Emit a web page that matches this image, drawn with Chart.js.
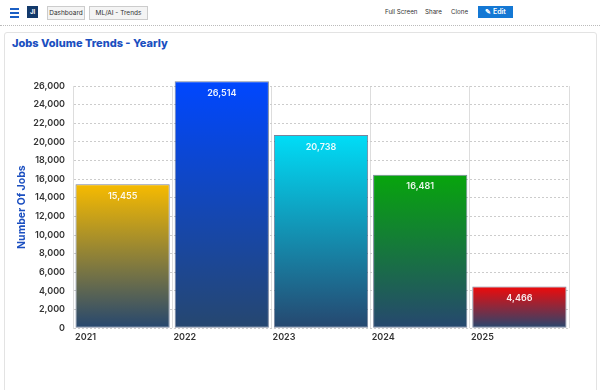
<!DOCTYPE html>
<html>
<head>
<meta charset="utf-8">
<script src="https://cdn.jsdelivr.net/npm/chart.js@4.4.1/dist/chart.umd.min.js"></script>
<style>
  body { margin: 0; width: 600px; height: 390px; background: #fff; font-family: "Inter", "Noto Sans", sans-serif; position: relative; overflow: hidden; }
  .bar { position: absolute; left: 0; top: 0; width: 600px; height: 25px; border-bottom: 1px dotted #bbb; }
  .menu { position: absolute; left: 10px; top: 8px; width: 9px; }
  .menu i { display: block; height: 2px; background: #1b5fc4; margin-bottom: 2px; }
  .logo { position: absolute; left: 27px; top: 6px; width: 11px; height: 12px; background: #133a6b; color: #fff; font-size: 6px; font-weight: 700; text-align: center; line-height: 12px; }
  .btn { position: absolute; top: 6px; height: 12px; border: 1px solid #ccc; background: #f4f4f4; font-size: 6.5px; color: #333; line-height: 12px; text-align: center; }
  .lnk { position: absolute; top: 8px; font-size: 6.2px; color: #333; }
  .edit { position: absolute; left: 478px; top: 6px; width: 35px; height: 12px; background: #1478d4; color: #fff; font-size: 7px; line-height: 12px; text-align: center; font-weight: 600; }
  .card { position: absolute; left: 4px; top: 32px; width: 591px; height: 380px; border: 1px solid #e3e3e3; border-radius: 3px; }
  .title { position: absolute; left: 12px; top: 36px; font-size: 11px; font-weight: 800; color: #1b4fc0; }
  .wrap { position: absolute; left: 1px; top: 60px; width: 591px; height: 287px; }
</style>
</head>
<body>
<div class="bar">
  <div class="menu"><i></i><i></i><i></i></div>
  <div class="logo">JI</div>
  <div class="btn" style="left:47px;width:36px;">Dashboard</div>
  <div class="btn" style="left:89px;width:57px;">ML/AI - Trends</div>
  <div class="lnk" style="left:385px;">Full Screen</div>
  <div class="lnk" style="left:425px;">Share</div>
  <div class="lnk" style="left:451px;">Clone</div>
  <div class="edit">&#9998; Edit</div>
</div>
<div class="card"></div>
<div class="title">Jobs Volume Trends - Yearly</div>
<div class="wrap"><canvas id="chart"></canvas></div>
<script>
'use strict';

// chart data
let years = ['2021', '2022', '2023', '2024', '2025'];
let jobCounts = [15455, 26514, 20738, 16481, 4466];
let topColors = ['#f7bb00', '#0047ff', '#00ddf7', '#07a50c', '#f00a0a'];
let bottomColor = '#26476f';
let yTicks = [0, 2000, 4000, 6000, 8000, 10000, 12000, 14000, 16000, 18000, 20000, 22000, 24000, 26000];

let canvasElem = document.getElementById('chart');

// gradient from bar top down to the zero line
function barGradient(context) {
  let chart = context.chart;
  if (!chart.chartArea || context.dataIndex === undefined) return topColors[0];
  let yScale = chart.scales.y;
  let top = yScale.getPixelForValue(jobCounts[context.dataIndex]);
  let bottom = yScale.getPixelForValue(0);
  let grad = chart.ctx.createLinearGradient(0, top, 0, bottom);
  grad.addColorStop(0, topColors[context.dataIndex]);
  grad.addColorStop(1, bottomColor);
  return grad;
}

// value labels inside the bars
let valueLabels = {
  id: 'valueLabels',
  afterDatasetsDraw(chart) {
    let ctx = chart.ctx;
    let meta = chart.getDatasetMeta(0);
    ctx.save();
    ctx.font = '600 9px Inter, sans-serif';
    ctx.fillStyle = 'rgba(255,255,255,0.92)';
    ctx.textAlign = 'center';
    ctx.textBaseline = 'middle';
    meta.data.forEach((bar, i) => {
      ctx.fillText(jobCounts[i].toLocaleString('en-US'), bar.x, bar.y + 12);
    });
    ctx.restore();
  }
};

let chartOptions = {
  responsive: true,
  maintainAspectRatio: false,
  animation: false,
  layout: { padding: { left: 0, right: 23, top: 26, bottom: 0 } },
  plugins: {
    legend: { display: false },
    tooltip: { enabled: false }
  },
  scales: {
    x: {
      grid: { display: true, color: '#dddddd', drawTicks: false },
      border: { display: false },
      ticks: {
        color: '#333',
        font: { size: 9, weight: '600', family: 'Inter' },
        labelOffset: -37,
        padding: 4
      }
    },
    y: {
      min: 0,
      max: 26000,
      afterBuildTicks(axis) {
        axis.ticks = yTicks.map(v => ({ value: v }));
      },
      afterFit(axis) {
        axis.width = 72;
      },
      grid: { color: '#cccccc', drawTicks: false },
      border: { display: true, color: '#dddddd', dash: [2, 2] },
      ticks: {
        color: '#333',
        padding: 8,
        font: { size: 9, weight: '600', family: 'Inter' },
        callback: v => v.toLocaleString('en-US')
      },
      title: {
        display: true,
        text: 'Number Of Jobs',
        color: '#1b4fc0',
        font: { size: 10.5, weight: '700', family: 'Inter' },
        padding: { top: 15, bottom: 8 }
      }
    }
  }
};

let chartConfig = {
  type: 'bar',
  data: {
    labels: years,
    datasets: [{
      label: 'Jobs',
      data: jobCounts,
      backgroundColor: barGradient,
      borderColor: 'rgba(30,50,90,0.6)',
      borderWidth: 1,
      borderSkipped: false,
      barPercentage: 0.95,
      categoryPercentage: 1,
      clip: false
    }]
  },
  options: chartOptions,
  plugins: [valueLabels]
};

new Chart(canvasElem, chartConfig);
</script>
</body>
</html>
